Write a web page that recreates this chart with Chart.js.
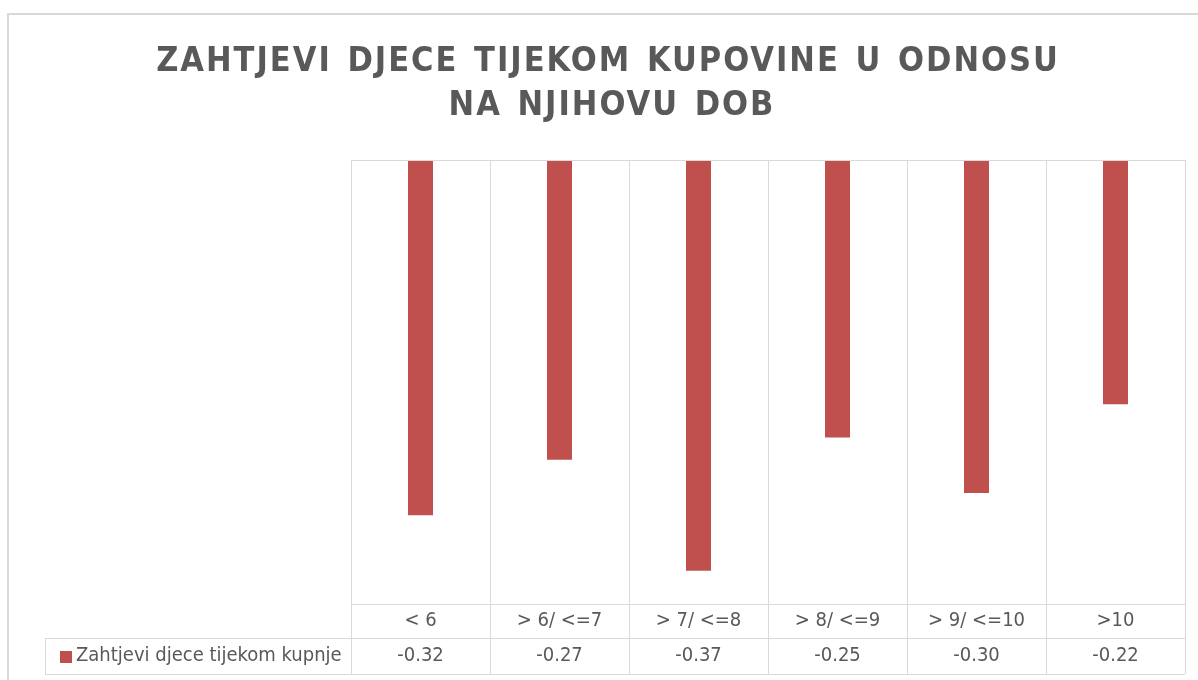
<!DOCTYPE html>
<html>
<head>
<meta charset="utf-8">
<script src="https://cdn.jsdelivr.net/npm/chart.js@4.4.0/dist/chart.umd.min.js"></script>
<style>
  html, body { margin: 0; padding: 0; background: #fff; }
  #wrap { width: 1198px; height: 680px; }
</style>
</head>
<body>
<div id="wrap"><canvas id="chart"></canvas></div>
<script>
const titleLines = ['ZAHTJEVI DJECE TIJEKOM KUPOVINE U ODNOSU', 'NA NJIHOVU DOB'];
const ageGroups = ['< 6', '> 6/ <=7', '> 7/ <=8', '> 8/ <=9', '> 9/ <=10', '>10'];
const requestValues = [-0.32, -0.27, -0.37, -0.25, -0.30, -0.22];
const seriesName = 'Zahtjevi djece tijekom kupnje';

const FONT = "'Liberation Sans Narrow', 'DejaVu Sans Condensed', 'Open Sans', sans-serif";
const TEXT = '#595959';
const LINE = '#d9d9d9';
const BAR = '#C0504D';

// title, outer frame and the data table under the plot
const tablePlugin = {
  id: 'tableBits',
  beforeDraw(chart) {
    const ctx = chart.ctx;
    ctx.save();
    ctx.strokeStyle = LINE;
    ctx.lineWidth = 2;
    ctx.strokeRect(8, 14, 1300, 800);
    ctx.restore();
  },
  afterDraw(chart) {
    const ctx = chart.ctx;
    const area = chart.chartArea;
    const x = chart.scales.x;
    const row1 = 638, row2 = 674, legLeft = 45;
    const step = x.getPixelForValue(1) - x.getPixelForValue(0);

    ctx.save();
    // title
    ctx.fillStyle = TEXT;
    ctx.font = 'bold 34px ' + FONT;
    ctx.letterSpacing = '2px';
    ctx.wordSpacing = '3px';
    ctx.textAlign = 'center';
    ctx.textBaseline = 'alphabetic';
    ctx.fillText(titleLines[0], 608, 71);
    ctx.fillText(titleLines[1], 612, 115);
    ctx.letterSpacing = '0px';
    ctx.wordSpacing = '0px';

    // lines
    ctx.strokeStyle = LINE;
    ctx.lineWidth = 1;
    ctx.beginPath();
    ctx.moveTo(area.left, area.top + 0.5);
    ctx.lineTo(area.right, area.top + 0.5);
    ctx.moveTo(legLeft, row1 + 0.5);
    ctx.lineTo(area.right, row1 + 0.5);
    ctx.moveTo(legLeft, row2 + 0.5);
    ctx.lineTo(area.right, row2 + 0.5);
    ctx.moveTo(legLeft + 0.5, row1);
    ctx.lineTo(legLeft + 0.5, row2);
    for (let i = 0; i <= ageGroups.length; i++) {
      const px = Math.round(x.getPixelForValue(i) - step / 2) + 0.5;
      ctx.moveTo(px, area.bottom);
      ctx.lineTo(px, row2);
    }
    ctx.stroke();

    // legend key + values
    ctx.fillStyle = BAR;
    ctx.fillRect(60, 651, 12, 12);
    ctx.fillStyle = TEXT;
    ctx.font = '20px ' + FONT;
    ctx.textBaseline = 'middle';
    ctx.textAlign = 'left';
    ctx.fillText(seriesName, 76, 656);
    ctx.textAlign = 'center';
    requestValues.forEach((v, i) => {
      ctx.fillText(v.toFixed(2), x.getPixelForValue(i), 656);
    });
    ctx.restore();
  }
};

new Chart(document.getElementById('chart'), {
  type: 'bar',
  data: {
    labels: ageGroups,
    datasets: [{
      label: seriesName,
      data: requestValues,
      backgroundColor: BAR,
      borderWidth: 0,
      barPercentage: 0.18,
      categoryPercentage: 1
    }]
  },
  options: {
    responsive: true,
    maintainAspectRatio: false,
    animation: false,
    layout: { padding: { top: 160, left: 351, right: 13, bottom: 0 } },
    plugins: {
      legend: { display: false },
      title: { display: false },
      tooltip: { enabled: false }
    },
    scales: {
      x: {
        afterFit(scale) { scale.height = 76; },
        grid: { color: LINE, drawTicks: false, offset: true },
        border: { color: LINE },
        ticks: { color: TEXT, padding: 5, font: { family: FONT, size: 20 } }
      },
      y: {
        display: false,
        min: -0.4,
        max: 0
      }
    }
  },
  plugins: [tablePlugin]
});
</script>
</body>
</html>
